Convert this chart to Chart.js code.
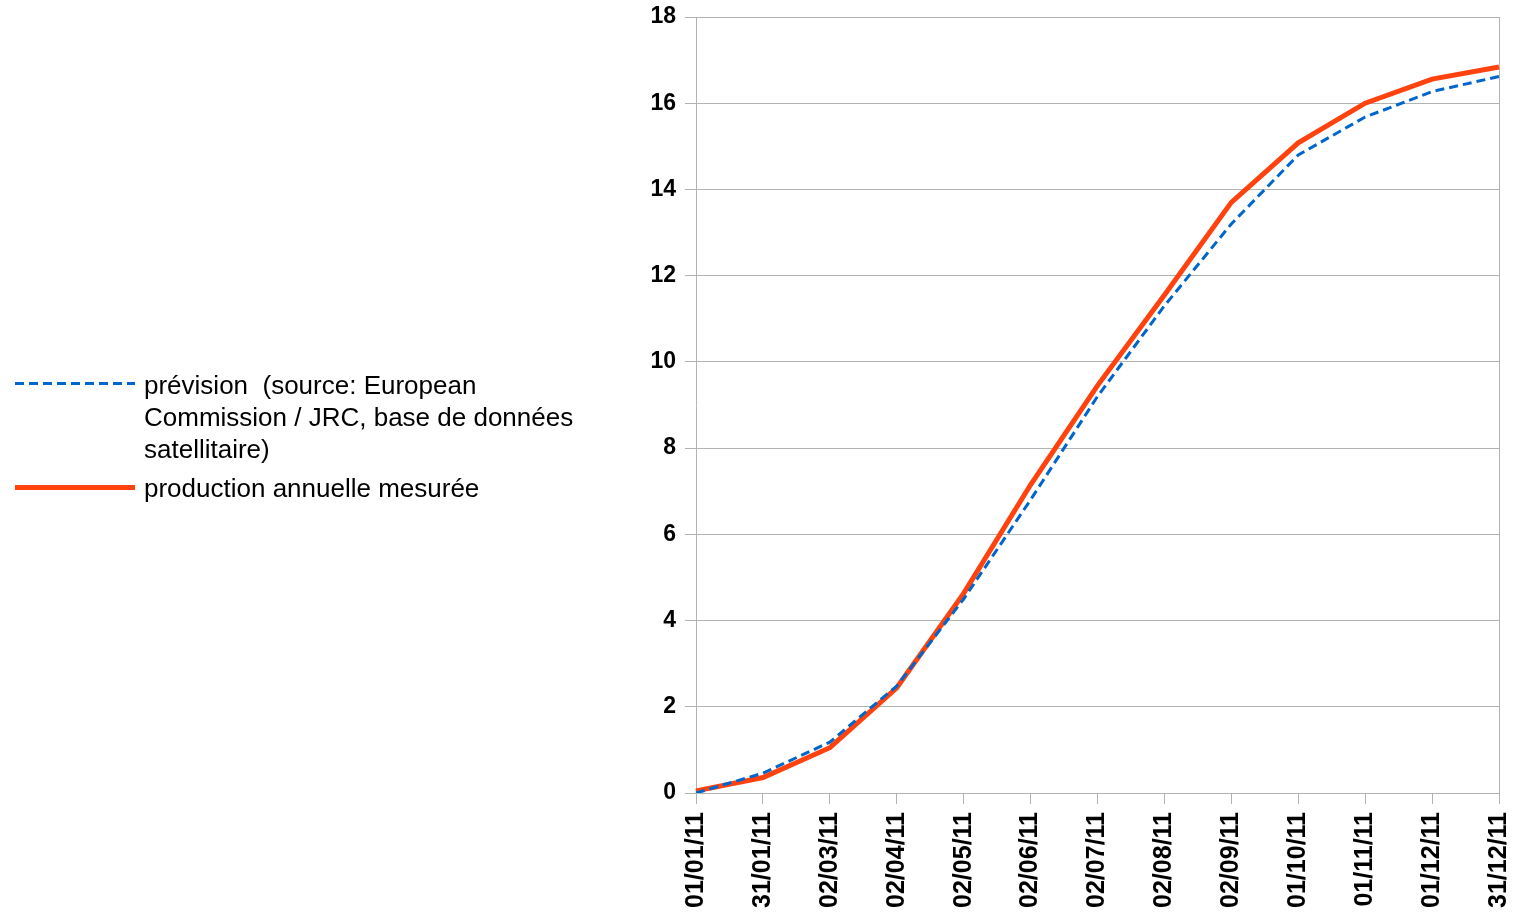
<!DOCTYPE html>
<html>
<head>
<meta charset="utf-8">
<script src="https://cdn.jsdelivr.net/npm/chart.js@4/dist/chart.umd.min.js"></script>
<style>
  html, body { margin: 0; padding: 0; background: #fff; }
  body { width: 1515px; height: 916px; position: relative; overflow: hidden; font-family: "Liberation Sans", Arial, sans-serif; }
  #wrap { position: absolute; left: 0; top: 0; width: 1515px; height: 916px; }
  .leg { position: absolute; left: 15px; top: 0; font-size: 26px; color: #000; }
  .sample { position: absolute; left: 0; width: 120px; }
  .txt { position: absolute; left: 129px; white-space: pre; line-height: 32px; }
  .dash { height: 3px; background: repeating-linear-gradient(to right, #0066cc 0 9px, transparent 9px 14px); }
  .solid { height: 5px; background: #ff420e; }
</style>
</head>
<body>
<div id="wrap"><canvas id="c" width="1515" height="916"></canvas></div>
<div id="legend"></div>
<script>
const categories = ["01/01/11","31/01/11","02/03/11","02/04/11","02/05/11","02/06/11","02/07/11","02/08/11","02/09/11","01/10/11","01/11/11","01/12/11","31/12/11"];
const forecastLabel = "prévision  (source: European Commission / JRC, base de données satellitaire)";
const measuredLabel = "production annuelle mesurée";
const forecast = [0.0, 0.46, 1.18, 2.48, 4.5, 6.8, 9.2, 11.3, 13.2, 14.8, 15.68, 16.27, 16.62];
const measured = [0.05, 0.36, 1.05, 2.44, 4.63, 7.15, 9.45, 11.55, 13.7, 15.08, 16.0, 16.56, 16.84];
const yTicks = { min: 0, max: 18, step: 2 };

const legendItems = [
  { cls: "dash", lines: ["prévision  (source: European", "Commission / JRC, base de données", "satellitaire)"], top: 369, sampleTop: 382 },
  { cls: "solid", lines: [measuredLabel], top: 472, sampleTop: 485 }
];
const leg = document.getElementById("legend");
legendItems.forEach(it => {
  const d = document.createElement("div");
  d.className = "leg";
  const s = document.createElement("div");
  s.className = "sample " + it.cls;
  s.style.top = it.sampleTop + "px";
  const t = document.createElement("div");
  t.className = "txt";
  t.style.top = it.top + "px";
  t.textContent = it.lines.join("\n");
  d.appendChild(s); d.appendChild(t);
  leg.appendChild(d);
});

const grid = "#b3b3b3";
const yFont = { family: "Liberation Sans", size: 23, weight: "bold" };
const xFont = { family: "Liberation Sans", size: 25, weight: "bold" };
new Chart(document.getElementById("c"), {
  type: "line",
  data: {
    labels: categories,
    datasets: [
      { label: forecastLabel, data: forecast, borderColor: "#0066cc", borderWidth: 3, borderDash: [9, 5], pointRadius: 0, tension: 0, fill: false },
      { label: measuredLabel, data: measured, borderColor: "#ff420e", borderWidth: 5, pointRadius: 0, tension: 0, fill: false, borderCapStyle: "butt" }
    ]
  },
  options: {
    responsive: false,
    animation: false,
    devicePixelRatio: 1,
    layout: { padding: { left: 620, right: 16, top: 17, bottom: 0 } },
    plugins: { legend: { display: false }, tooltip: { enabled: false } },
    scales: {
      x: {
        grid: {
          color: ctx => (ctx.index === categories.length - 1 ? grid : "rgba(0,0,0,0)"),
          tickColor: grid, tickLength: 11, lineWidth: 1
        },
        border: { color: grid },
        ticks: { color: "#000", font: xFont, minRotation: 90, maxRotation: 90, padding: 8, autoSkip: false },
        afterFit: s => { s.height = 123; s.paddingLeft = 0; s.paddingRight = 0; }
      },
      y: {
        min: yTicks.min, max: yTicks.max,
        grid: { color: grid, tickColor: grid, tickLength: 11 },
        border: { color: grid },
        ticks: { stepSize: yTicks.step, color: "#000", font: yFont, padding: 9 },
        afterFit: s => { s.width = 76; s.paddingTop = 0; s.paddingBottom = 0; }
      }
    }
  }
});
</script>
</body>
</html>
